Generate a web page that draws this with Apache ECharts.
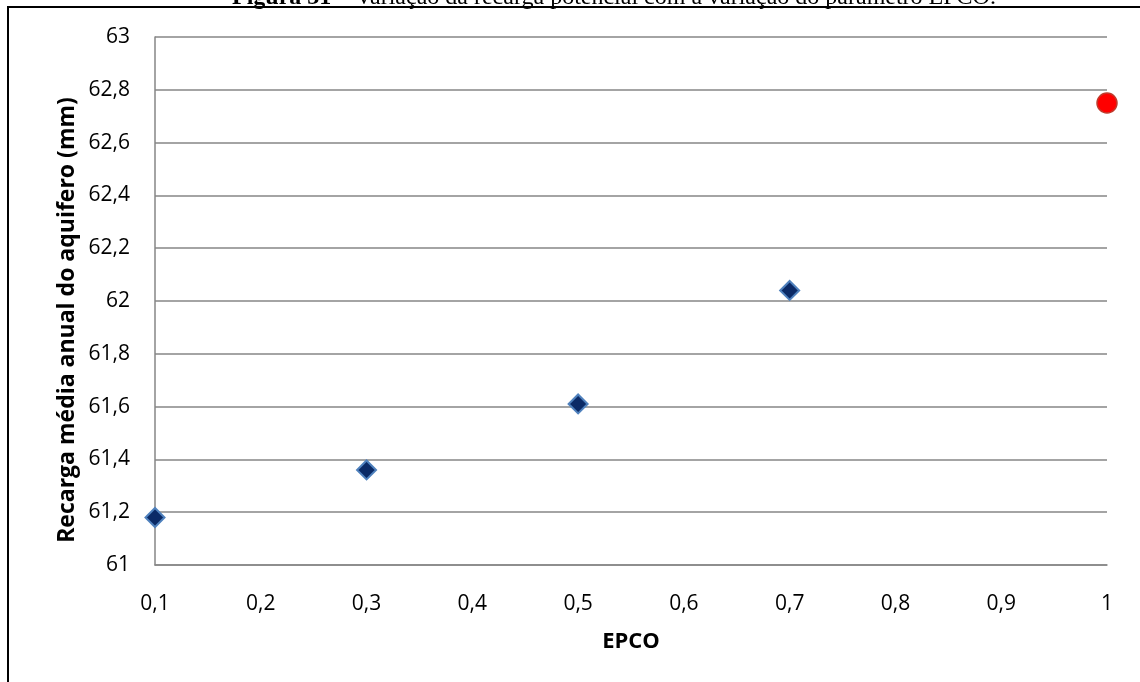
<!DOCTYPE html>
<html>
<head>
<meta charset="utf-8">
<script src="https://cdn.jsdelivr.net/npm/echarts@6/dist/echarts.min.js"></script>
<style>
html,body{margin:0;padding:0;background:#fff;}
#chart{width:1140px;height:682px;}
</style>
</head>
<body>
<div id="chart"></div>
<script>
// Data
const epcoValues = [0.1, 0.3, 0.5, 0.7];
const recargaValues = [61.18, 61.36, 61.61, 62.04];
const defaultEpco = [1.0];
const defaultRecarga = [62.75];
const xTicks = [0.1, 0.2, 0.3, 0.4, 0.5, 0.6, 0.7, 0.8, 0.9, 1];
const yTicks = [61, 61.2, 61.4, 61.6, 61.8, 62, 62.2, 62.4, 62.6, 62.8, 63];
const titleText = 'Figura 31';
const titleRest = ' – Variação da recarga potencial com a variação do parâmetro EPCO.';
const xName = 'EPCO';
const yName = 'Recarga média anual do aquifero (mm)';

const fmt = v => {
  const r = Math.round(v * 10) / 10;
  return String(r).replace('.', ',');
};

const chart = echarts.init(document.getElementById('chart'), null, {renderer: 'canvas'});
const font = 'Open Sans';
chart.setOption({
  animation: false,
  backgroundColor: '#ffffff',
  grid: {left: 155, right: 33, top: 37, bottom: 117, containLabel: false},
  graphic: [
    {
      type: 'rect', silent: true,
      shape: {x: 8, y: 7, width: 1200, height: 720},
      style: {fill: 'none', stroke: '#000', lineWidth: 2}
    },
    {
      type: 'text', silent: true,
      x: 614, y: 10,
      style: {
        text: '{b|' + titleText + '}' + titleRest,
        align: 'center', verticalAlign: 'bottom',
        fontFamily: 'Liberation Serif', fontSize: 24, fill: '#000',
        rich: {b: {fontWeight: 'bold', fontFamily: 'Liberation Serif', fontSize: 24, fill: '#000'}}
      }
    },
    {
      type: 'text', silent: true,
      x: 67, y: 320, rotation: Math.PI / 2,
      style: {
        text: yName, align: 'center', verticalAlign: 'middle',
        fontFamily: font, fontSize: 23, fontWeight: 'bold', fill: '#000'
      }
    }
  ],
  xAxis: {
    type: 'value',
    min: xTicks[0], max: xTicks[xTicks.length - 1], interval: 0.1,
    name: xName, nameLocation: 'middle', nameGap: 66,
    nameTextStyle: {fontFamily: font, fontSize: 22, fontWeight: 'bold', color: '#000'},
    axisLine: {show: true, lineStyle: {color: '#868686', width: 1.5}},
    axisTick: {show: false},
    splitLine: {show: false},
    axisLabel: {formatter: fmt, margin: 29, fontFamily: font, fontSize: 21, color: '#000'}
  },
  yAxis: {
    type: 'value',
    min: yTicks[0], max: yTicks[yTicks.length - 1], interval: 0.2,
    axisLine: {show: true, lineStyle: {color: '#868686', width: 1.5}},
    axisTick: {show: false},
    splitLine: {show: true, lineStyle: {color: '#868686', width: 1.5}},
    axisLabel: {formatter: fmt, margin: 25, fontFamily: font, fontSize: 21, color: '#000'}
  },
  series: [
    {
      type: 'scatter',
      data: epcoValues.map((x, i) => [x, recargaValues[i]]),
      symbol: 'diamond', symbolSize: [19, 19],
      itemStyle: {color: '#0b2a66', borderColor: '#4f81bd', borderWidth: 2, opacity: 1}
    },
    {
      type: 'scatter',
      data: defaultEpco.map((x, i) => [x, defaultRecarga[i]]),
      symbol: 'circle', symbolSize: 20,
      itemStyle: {color: '#ff0000', borderColor: '#c0392b', borderWidth: 1.5, opacity: 1}
    }
  ]
});
</script>
</body>
</html>
